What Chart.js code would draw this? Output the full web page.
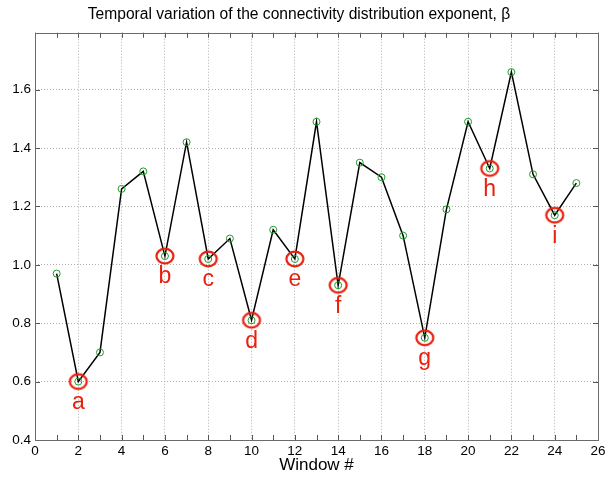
<!DOCTYPE html>
<html>
<head>
<meta charset="utf-8">
<script src="https://cdn.jsdelivr.net/npm/chart.js@4"></script>
<style>
  html, body { margin: 0; padding: 0; background: #fff; }
  #wrap { width: 614px; height: 477px; }
</style>
</head>
<body>
<div id="wrap"><canvas id="chart" width="614" height="477"></canvas></div>
<script>
// window index and the exponent beta
const windows = [1, 2, 3, 4, 5, 6, 7, 8, 9, 10, 11, 12, 13, 14, 15, 16, 17, 18, 19, 20, 21, 22, 23, 24, 25];
const beta = [0.97, 0.60, 0.70, 1.26, 1.32, 1.03, 1.42, 1.02, 1.09, 0.81, 1.12, 1.02, 1.49, 0.93, 1.35, 1.30, 1.10, 0.75, 1.19, 1.49, 1.33, 1.66, 1.31, 1.17, 1.28];

// highlighted windows and their letters
const markedWindows = [2, 6, 8, 10, 12, 14, 18, 21, 24];
const markedLetters = ['a', 'b', 'c', 'd', 'e', 'f', 'g', 'h', 'i'];

const yTickValues = [0.4, 0.6, 0.8, 1.0, 1.2, 1.4, 1.6];

const RED = '#e8200e';
const GREEN = '#1f9a2a';
const FONT = '"Liberation Sans", Arial, sans-serif';

const points = windows.map((w, i) => ({ x: w, y: beta[i] }));
const marked = markedWindows.map(w => ({ x: w, y: beta[windows.indexOf(w)] }));

// red ellipse used as point style for the marked windows
function ellipseIcon() {
    const c = document.createElement('canvas');
    c.width = 22; c.height = 20;
    const g = c.getContext('2d');
    g.strokeStyle = RED;
    g.lineWidth = 2.2;
    g.beginPath();
    g.ellipse(11, 10, 8.5, 7.3, 0, 0, Math.PI * 2);
    g.stroke();
    return c;
}

// box around the plot, inward tick marks, and the letters
const decor = {
    id: 'decor',
    afterDatasetsDraw(chart) {
        const ctx = chart.ctx;
        const a = chart.chartArea;
        const xs = chart.scales.x, ys = chart.scales.y;
        ctx.save();
        ctx.strokeStyle = '#555';
        ctx.lineWidth = 1;
        ctx.beginPath();
        for (let v = xs.min; v <= xs.max; v++) {
            const px = Math.round(xs.getPixelForValue(v)) + 0.5;
            ctx.moveTo(px, a.bottom); ctx.lineTo(px, a.bottom - 5);
            ctx.moveTo(px, a.top); ctx.lineTo(px, a.top + 5);
        }
        yTickValues.forEach(v => {
            const py = Math.round(ys.getPixelForValue(v)) + 0.5;
            ctx.moveTo(a.left, py); ctx.lineTo(a.left + 5, py);
            ctx.moveTo(a.right, py); ctx.lineTo(a.right - 5, py);
        });
        ctx.stroke();
        ctx.strokeStyle = '#6b6b6b';
        ctx.strokeRect(Math.round(a.left) + 0.5, Math.round(a.top) + 0.5,
            Math.round(a.right - a.left), Math.round(a.bottom - a.top));

        ctx.fillStyle = RED;
        ctx.font = '23px ' + FONT;
        ctx.textAlign = 'center';
        ctx.textBaseline = 'middle';
        marked.forEach((p, i) => {
            ctx.fillText(markedLetters[i], xs.getPixelForValue(p.x), ys.getPixelForValue(p.y) + 21);
        });
        ctx.restore();
    }
};

const gridStyle = {
    color: '#b0b0b0',
    lineWidth: 1,
    drawTicks: false
};

new Chart(document.getElementById('chart'), {
    type: 'scatter',
    data: {
        datasets: [
            {
                data: marked,
                showLine: false,
                pointStyle: ellipseIcon(),
                pointRadius: 10,
                pointHoverRadius: 10
            },
            {
                data: points,
                showLine: true,
                borderColor: '#000',
                borderWidth: 1.5,
                pointStyle: 'circle',
                pointRadius: 3.5,
                pointBorderWidth: 1,
                pointBorderColor: GREEN,
                pointBackgroundColor: 'rgba(0,0,0,0)'
            }
        ]
    },
    options: {
        responsive: false,
        animation: false,
        layout: { padding: { left: 0, right: 16, top: 0, bottom: 0 } },
        plugins: {
            legend: { display: false },
            tooltip: { enabled: false },
            title: {
                display: true,
                text: 'Temporal variation of the connectivity distribution exponent, \u03b2',
                color: '#000',
                font: { family: FONT, size: 15.6, weight: 'normal', lineHeight: 1.2 },
                padding: { top: 5, bottom: 9 }
            }
        },
        scales: {
            x: {
                type: 'linear',
                min: 0,
                max: 26,
                ticks: {
                    stepSize: 2,
                    color: '#000',
                    padding: 3,
                    maxRotation: 0,
                    font: { family: FONT, size: 13.5 }
                },
                grid: gridStyle,
                border: { display: false, dash: [1, 2] },
                title: {
                    display: true,
                    text: 'Window #',
                    color: '#000',
                    font: { family: FONT, size: 17 },
                    padding: { top: 0, bottom: 1 }
                },
                afterFit(s) { s.height = 37; }
            },
            y: {
                min: 0.4,
                max: 1.795,
                afterBuildTicks(s) { s.ticks = yTickValues.map(v => ({ value: v })); },
                ticks: {
                    color: '#000',
                    padding: 4,
                    font: { family: FONT, size: 13.5 },
                    callback: v => v.toFixed(1)
                },
                grid: gridStyle,
                border: { display: false, dash: [1, 2] },
                afterFit(s) { s.width = 35; }
            }
        }
    },
    plugins: [decor]
});
</script>
</body>
</html>
